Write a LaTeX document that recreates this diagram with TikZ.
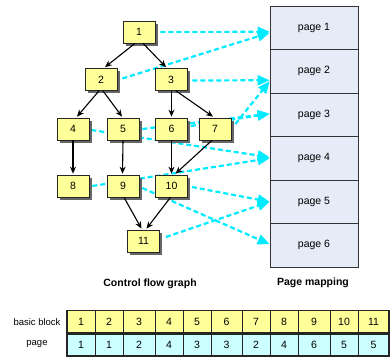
\documentclass[tikz,border=0pt]{standalone}
\usepackage{fontspec}
\setmainfont{Liberation Sans}
\usetikzlibrary{arrows.meta,shadows,calc}
\definecolor{nodeY}{RGB}{255,255,153}
\definecolor{cellC}{RGB}{204,255,255}
\definecolor{pageF}{RGB}{230,236,247}
\definecolor{cyanA}{RGB}{0,235,255}
\pgfdeclarelayer{bg}
\pgfsetlayers{bg,main}
\begin{document}
\begin{tikzpicture}[x=1pt,y=-1pt,
  bb/.style={draw=black!85, line width=0.7pt, fill=nodeY, minimum width=32pt, minimum height=22pt,
    inner sep=0pt, font=\fontsize{10.5}{12}\selectfont,
    drop shadow={shadow xshift=2.5pt, shadow yshift=-2.5pt, fill=black!60, opacity=1}},
  pg/.style={draw=black!80, line width=0.7pt, fill=pageF, minimum width=88pt, minimum height=43.5pt,
    inner sep=0pt, font=\fontsize{10.5}{12}\selectfont},
  flow/.style={-{Stealth[length=7pt,width=6pt]}, line width=1.1pt},
  pmap/.style={cyanA, line width=2.2pt, dash pattern=on 5pt off 3pt, -{Triangle[length=12pt,width=10pt]}},
  captxt/.style={font=\fontsize{10.5}{12}\selectfont\bfseries},
  rowlab/.style={font=\fontsize{9.5}{11}\selectfont},
  cellbase/.style={draw=black!85, line width=0.8pt, minimum height=22pt, inner sep=0pt, outer sep=0pt,
    font=\fontsize{10.5}{12}\selectfont}
]
\useasboundingbox (0,0) rectangle (390,360);

% control flow graph nodes
\node[bb] (n1) at (139,32) {1};
\node[bb] (n2) at (101,79.5) {2};
\node[bb] (n3) at (171,79.5) {3};
\node[bb] (n4) at (73,129) {4};
\node[bb] (n5) at (123,129) {5};
\node[bb] (n6) at (171.5,129) {6};
\node[bb] (n7) at (215,129) {7};
\node[bb] (n8) at (73,186) {8};
\node[bb] (n9) at (123,186) {9};
\node[bb] (n10) at (171.5,186) {10};
\node[bb] (n11) at (143.5,241) {11};

% pages
\foreach \i in {1,...,6} {
  \node[pg] (p\i) at (314,{6+43.5*(\i-0.5)}) {page \i};
}

% captions
\node[captxt] (capA) at (150,284) {Control flow graph};
\node[captxt] (capB) at (313,283) {Page mapping};

% flow arrows
\draw[flow] ($(n1.south)+(-4,0)$) -- ($(n2.north)+(4,-1)$);
\draw[flow] ($(n1.south)+(4,0)$) -- ($(n3.north)+(-5,-1)$);
\draw[flow] ($(n2.south)+(-2,0)$) -- ($(n4.north)+(4,-1)$);
\draw[flow] ($(n2.south)+(2,0)$) -- ($(n5.north)+(-1,-1)$);
\draw[flow] ($(n3.south)+(0.5,0)$) -- ($(n6.north)+(0,-1)$);
\draw[flow] ($(n3.south)+(5,0)$) -- ($(n7.north)+(-2,-1)$);
\draw[flow] (n4.south) -- ($(n8.north)+(0,-1)$);
\draw[flow] (n5.south) -- ($(n9.north)+(-0.5,-1)$);
\draw[flow] (n6.south) -- ($(n10.north)+(0,-1)$);
\draw[flow] ($(n7.south)+(-3,0)$) -- ($(n10.north)+(4,-1)$);
\draw[flow] ($(n9.south)+(1,0)$) -- ($(n11.north)+(-2,-1)$);
\draw[flow] ($(n10.south)+(-1,0)$) -- ($(n11.north)+(3,-1)$);

% page mapping arrows (behind nodes)
\begin{pgfonlayer}{bg}
\draw[pmap] ($(n1.east)+(5,0)$) -- ($(p1.west)+(0,4)$);
\draw[pmap] ($(n2.east)+(5,-1)$) -- ($(p1.west)+(0,5)$);
\draw[pmap] ($(n3.east)+(5,1)$) -- ($(p2.west)+(0,9)$);
\draw[pmap] ($(n7.east)+(4,-5)$) -- ($(p2.west)+(0,10)$);
\draw[pmap] ($(n6.east)+(3,-3)$) -- ($(p3.west)+(0,-1)$);
\draw[pmap] ($(n5.east)+(3,0)$) -- ($(p3.west)+(0,-1)$);
\draw[pmap] ($(n4.east)+(2,1)$) -- ($(p4.west)+(0,-1)$);
\draw[pmap] ($(n8.east)+(3,0)$) -- ($(p4.west)+(0,0)$);
\draw[pmap] ($(n10.east)+(4,1)$) -- ($(p5.west)+(0,0)$);
\draw[pmap] ($(n11.east)+(6,-4)$) -- ($(p5.west)+(0,0)$);
\draw[pmap] ($(n9.east)+(3,2)$) -- ($(p6.west)+(0,-1)$);
\end{pgfonlayer}

% table
\node[rowlab] (lblA) at (37,322) {basic block};
\node[rowlab] (lblB) at (37,344) {page};
\foreach \a/\b/\t/\p [count=\i] in {67/95/1/1, 95/123/2/1, 123/155/3/2, 155/183/4/4, 183/211/5/3,
   211/242/6/3, 242/270/7/2, 270/298/8/4, 298/330/9/6, 330/358/10/5, 358/389/11/5} {
  \pgfmathsetmacro\w{\b-\a}
  \pgfmathsetmacro\cx{(\a+\b)/2}
  \node[cellbase, fill=nodeY, minimum width=\w pt] (b\i) at (\cx,321.5) {\t};
  \node[cellbase, fill=cellC, minimum width=\w pt] (q\i) at (\cx,345) {\p};
}
\draw[black!85, line width=1.3pt] (b1.north west) rectangle (b11.south east);
\draw[black!85, line width=1.3pt] (q1.north west) rectangle (q11.south east);
\end{tikzpicture}
\end{document}
